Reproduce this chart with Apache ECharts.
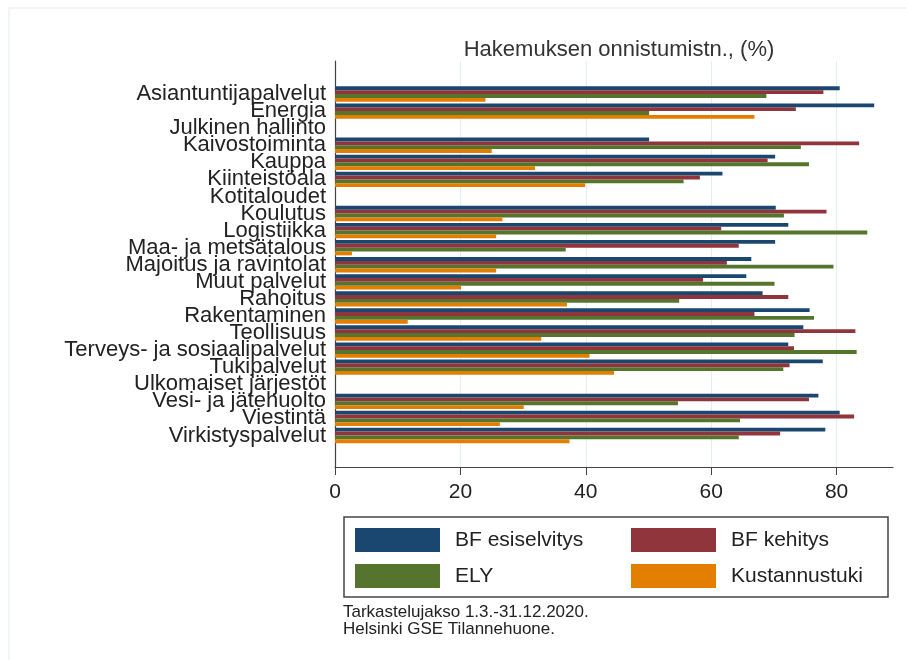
<!DOCTYPE html>
<html>
<head>
<meta charset="utf-8">
<script src="https://cdn.jsdelivr.net/npm/echarts@6/dist/echarts.min.js"></script>
<style>
html,body{margin:0;padding:0;background:#fff}
#main{width:906px;height:660px}
</style>
</head>
<body>
<div id="main"></div>
<script>
var categories = ['Asiantuntijapalvelut','Energia','Julkinen hallinto','Kaivostoiminta','Kauppa','Kiinteistöala','Kotitaloudet','Koulutus','Logistiikka','Maa- ja metsätalous','Majoitus ja ravintolat','Muut palvelut','Rahoitus','Rakentaminen','Teollisuus','Terveys- ja sosiaalipalvelut','Tukipalvelut','Ulkomaiset järjestöt','Vesi- ja jätehuolto','Viestintä','Virkistyspalvelut'];
var bfEsiselvitys = [80.5, 86.0, null, 50.1, 70.2, 61.8, null, 70.3, 72.3, 70.2, 66.4, 65.6, 68.2, 75.7, 74.7, 72.3, 77.8, null, 77.1, 80.5, 78.2];
var bfKehitys     = [77.9, 73.5, null, 83.6, 69.0, 58.2, null, 78.4, 61.6, 64.4, 62.5, 58.7, 72.3, 66.9, 83.0, 73.2, 72.5, null, 75.6, 82.8, 71.0];
var ely           = [68.8, 50.1, null, 74.3, 75.6, 55.6, null, 71.6, 84.9, 36.8, 79.5, 70.1, 54.9, 76.4, 73.3, 83.2, 71.5, null, 54.7, 64.6, 64.4];
var kustannustuki = [24.0, 66.9, null, 25.0, 31.9, 39.9, null, 26.7, 25.7,  2.7, 25.7, 20.1, 37.0, 11.6, 32.9, 40.6, 44.5, null, 30.1, 26.3, 37.4];
var xTicks = [0, 20, 40, 60, 80];

var font = "'Liberation Sans', Arial, sans-serif";
var chart = echarts.init(document.getElementById('main'));

function bar(name, data, color) {
    return {
        name: name,
        type: 'bar',
        xAxisIndex: 1,
        yAxisIndex: 1,
        data: data,
        barGap: '0%',
        barCategoryGap: '10%',
        itemStyle: {color: color},
        emphasis: {disabled: true}
    };
}

var option = {
    animation: false,
    backgroundColor: '#fff',
    textStyle: {fontFamily: font},
    title: [
        {
            text: 'Hakemuksen onnistumistn., (%)',
            left: 614, top: 34, textAlign: 'center',
            textStyle: {fontSize: 22, fontWeight: 'normal', color: '#333', fontFamily: font}
        },
        {
            text: 'Tarkastelujakso 1.3.-31.12.2020.\nHelsinki GSE Tilannehuone.',
            left: 343, top: 604, padding: 0,
            textStyle: {fontSize: 17, lineHeight: 17, fontWeight: 'normal', color: '#222', fontFamily: font}
        }
    ],
    legend: [
        {
            data: ['BF esiselvitys', 'ELY'],
            orient: 'vertical', left: 355, top: 528, padding: 0,
            itemWidth: 85, itemHeight: 24, itemGap: 12, icon: 'rect',
            selectedMode: false,
            textStyle: {fontSize: 21, color: '#222', padding: [0, 0, 0, 10], fontFamily: font}
        },
        {
            data: ['BF kehitys', 'Kustannustuki'],
            orient: 'vertical', left: 631, top: 528, padding: 0,
            itemWidth: 85, itemHeight: 24, itemGap: 12, icon: 'rect',
            selectedMode: false,
            textStyle: {fontSize: 21, color: '#222', padding: [0, 0, 0, 10], fontFamily: font}
        }
    ],
    graphic: [
        {type: 'rect', shape: {x: 9, y: 8, width: 1000, height: 1000}, style: {fill: 'none', stroke: '#edf2f3', lineWidth: 1.5}, silent: true},
        {type: 'rect', shape: {x: 344, y: 517, width: 544, height: 80}, style: {fill: 'none', stroke: '#444', lineWidth: 1.5}, silent: true}
    ],
    grid: [
        {left: 335, top: 61, width: 558, height: 406},
        {left: 335, top: 85.5, width: 558, height: 358.5}
    ],
    xAxis: [
        {
            gridIndex: 0, type: 'value', min: 0, max: 89,
            axisLine: {show: true, lineStyle: {color: '#444', width: 1.2}},
            axisTick: {show: true, length: 8, customValues: xTicks, lineStyle: {color: '#444'}},
            axisLabel: {fontSize: 21, color: '#222', margin: 15, customValues: xTicks, fontFamily: font},
            splitLine: {show: true, lineStyle: {color: '#e4edef', width: 1}}
        },
        {gridIndex: 1, type: 'value', min: 0, max: 89, show: false}
    ],
    yAxis: [
        {
            gridIndex: 0, type: 'value', min: 0, max: 1,
            axisLine: {show: true, lineStyle: {color: '#444', width: 1.2}},
            axisTick: {show: false}, axisLabel: {show: false}, splitLine: {show: false}
        },
        {
            gridIndex: 1, type: 'category', data: categories, inverse: true,
            axisLine: {show: false}, axisTick: {show: false},
            axisLabel: {interval: 0, hideOverlap: false, fontSize: 22, color: '#222', margin: 9, fontFamily: font}
        }
    ],
    series: [
        bar('BF esiselvitys', bfEsiselvitys, '#1a476f'),
        bar('BF kehitys', bfKehitys, '#90353b'),
        bar('ELY', ely, '#55752f'),
        bar('Kustannustuki', kustannustuki, '#e37e00')
    ]
};
chart.setOption(option);
</script>
</body>
</html>
